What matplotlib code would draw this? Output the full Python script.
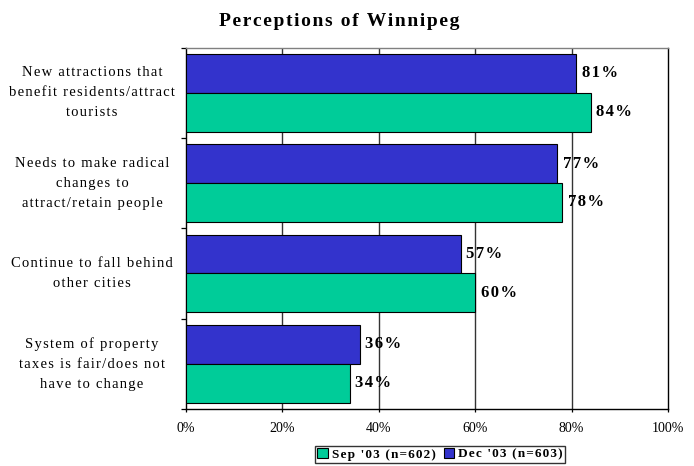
import matplotlib
matplotlib.use("Agg")
import matplotlib.pyplot as plt
from matplotlib.patches import Patch
import numpy as np

# Données
categories = [
    "New attractions that\nbenefit residents/attract\ntourists",
    "Needs to make radical\nchanges to\nattract/retain people",
    "Continue to fall behind\nother cities",
    "System of property\ntaxes is fair/does not\nhave to change",
]
sep_03 = [84, 78, 60, 34]
dec_03 = [81, 77, 57, 36]
series_labels = ["Sep '03 (n=602)", "Dec '03 (n=603)"]
xticks = [0, 20, 40, 60, 80, 100]

GREEN = "#00CC99"
BLUE = "#3333CC"
SERIF = ["Liberation Serif", "DejaVu Serif"]
HAIR = "\u200a"


def spaced(s):
    """Ajoute un espacement entre les lettres (comme dans l'original)."""
    return "\n".join(HAIR.join(line) for line in s.split("\n"))


fig = plt.figure(figsize=(6.94, 4.66), dpi=100)
ax = fig.add_axes([186 / 694, 1 - 409 / 466, (668 - 186) / 694, (409 - 47.5) / 466])

y = np.arange(len(categories))
h = 0.43
ax.barh(y - h / 2, dec_03, height=h, color=BLUE, edgecolor="black", linewidth=0.8, zorder=3)
ax.barh(y + h / 2, sep_03, height=h, color=GREEN, edgecolor="black", linewidth=0.8, zorder=3)

for yi, v in zip(y, dec_03):
    ax.annotate(spaced(f"{v}%"), (v, yi - h / 2), xytext=(4, 0), textcoords="offset points",
                va="center", ha="left", fontsize=12, fontweight="bold", family=SERIF)
for yi, v in zip(y, sep_03):
    ax.annotate(spaced(f"{v}%"), (v, yi + h / 2), xytext=(4, 0), textcoords="offset points",
                va="center", ha="left", fontsize=12, fontweight="bold", family=SERIF)

ax.set_xlim(0, 100)
ax.set_ylim(len(categories) - 0.5, -0.5)

# grille verticale
for x in xticks[1:-1]:
    ax.axvline(x, color="#333333", linewidth=1, zorder=1)

ax.set_xticks(xticks)
ax.set_xticklabels([f"{x}%" for x in xticks], family=SERIF, fontsize=10)
ax.tick_params(axis="x", direction="out", length=2.5, width=0.9, pad=7)

ax.set_yticks([])
ax.set_yticks(np.arange(-0.5, len(categories)), minor=True)
ax.tick_params(axis="y", which="minor", direction="out", length=3.5, width=0.9)

for yi, lab in zip(y, categories):
    ax.text(-0.195, yi, spaced(lab), transform=ax.get_yaxis_transform(), ha="center", va="center",
            multialignment="center", fontsize=10.5, family=SERIF, linespacing=1.7)

ax.spines["top"].set_color("#808080")
ax.spines["right"].set_color("black")
for s in ax.spines.values():
    s.set_linewidth(1)

fig.text(339 / 694, 1 - 21 / 466, spaced("Perceptions of Winnipeg"), ha="center", va="center",
         fontsize=14, fontweight="bold", family=SERIF)

handles = [Patch(facecolor=GREEN, edgecolor="black", linewidth=0.8),
           Patch(facecolor=BLUE, edgecolor="black", linewidth=0.8)]
leg = fig.legend(handles, [spaced(s) for s in series_labels], loc="upper center",
                 bbox_to_anchor=(440 / 694, 1 - 446 / 466),
                 ncol=2, frameon=True, fancybox=False, handlelength=0.8, handleheight=0.8,
                 handletextpad=0.3, columnspacing=0.6, borderpad=0.15, borderaxespad=0,
                 prop={"family": SERIF, "weight": "bold", "size": 9.5})
leg.get_frame().set_edgecolor("black")
leg.get_frame().set_linewidth(1)

fig.savefig("out.png", dpi=100)
